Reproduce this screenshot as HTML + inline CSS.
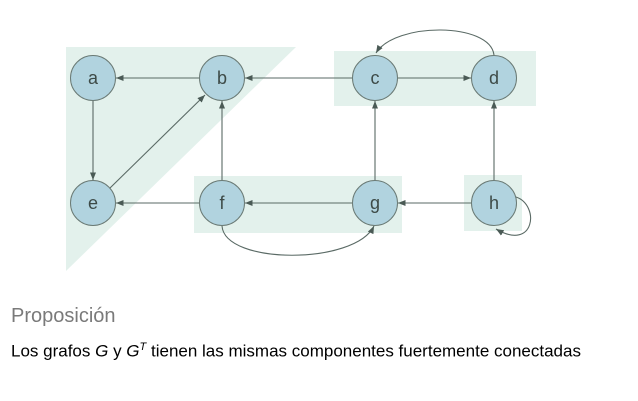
<!DOCTYPE html>
<html><head><style>
body{margin:0;background:#fff;width:638px;height:401px;overflow:hidden;font-family:"Liberation Sans","DejaVu Sans",sans-serif}
</style></head><body>
<svg width="638" height="401" style="position:absolute;left:0;top:0">
<defs><marker id="ar" viewBox="0 0 10 10" refX="10" refY="5" markerWidth="7" markerHeight="7" orient="auto-start-reverse"><path d="M0,1 L10,5 L0,9 z" fill="#4a5a55"/></marker></defs>
<polygon points="66,47 296,47 66,271" fill="#e3f1ec"/>
<rect x="334" y="51" width="202" height="55" fill="#e3f1ec"/>
<rect x="194" y="176" width="208" height="57" fill="#e3f1ec"/>
<rect x="464" y="175" width="58" height="56" fill="#e3f1ec"/>
<g stroke="#5a6a65" stroke-width="1.1" fill="none" marker-end="url(#ar)">
<line x1="199" y1="78" x2="116" y2="78"/>
<line x1="352" y1="78" x2="245" y2="78"/>
<line x1="398" y1="78" x2="471" y2="78"/>
<line x1="93" y1="101" x2="93" y2="180"/>
<line x1="110" y1="188" x2="205" y2="95"/>
<line x1="222" y1="180" x2="222" y2="101"/>
<line x1="199" y1="203" x2="116" y2="203"/>
<line x1="352" y1="203" x2="245" y2="203"/>
<line x1="471" y1="203" x2="398" y2="203"/>
<line x1="375" y1="180" x2="375" y2="101"/>
<line x1="494" y1="180" x2="494" y2="101"/>
<path d="M494,55 C490,22 395,22 376,53"/>
<path d="M222,226 C225,265 355,265 374,226"/>
<path d="M516,197 C540,205 535,252 496,229"/>
</g>
<g fill="#b1d3df" stroke="#6a7a75" stroke-width="1">
<circle cx="93" cy="78" r="22.5"/><circle cx="222" cy="78" r="22.5"/>
<circle cx="375" cy="78" r="22.5"/><circle cx="494" cy="78" r="22.5"/>
<circle cx="93" cy="203" r="22.5"/><circle cx="222" cy="203" r="22.5"/>
<circle cx="375" cy="203" r="22.5"/><circle cx="494" cy="203" r="22.5"/>
</g>
<g font-family="Liberation Sans, sans-serif" font-size="18" fill="#3d4a47" text-anchor="middle">
<text x="93" y="84">a</text><text x="222" y="84">b</text><text x="375" y="84">c</text><text x="494" y="84">d</text>
<text x="93" y="209">e</text><text x="222" y="209">f</text><text x="375" y="209">g</text><text x="494" y="209">h</text>
</g>
</svg>
<div style="position:absolute;left:11px;top:305px;font-size:20px;color:#7a7a7a">Proposición</div>
<div style="position:absolute;left:11px;top:341px;font-size:17px;color:#000;white-space:nowrap">Los grafos <i>G</i> y <i>G</i><sup style="font-size:11px;font-style:italic">T</sup> tienen las mismas componentes fuertemente conectadas</div>
</body></html>
